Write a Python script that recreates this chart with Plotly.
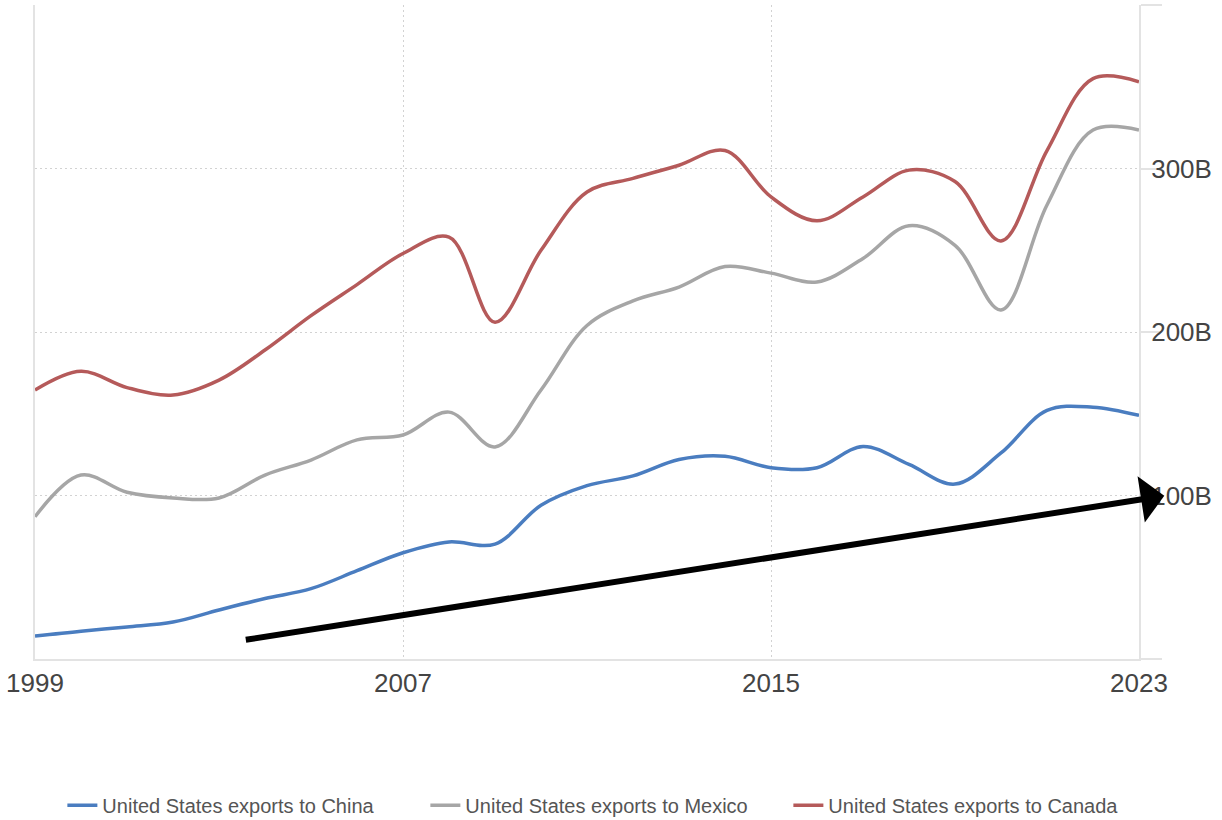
import plotly.graph_objects as go

years = list(range(1999, 2024))
china = [14, 17, 19.6, 22.6, 30, 37, 43, 54, 65, 71.6, 70.3, 94, 106, 112, 122, 124, 117, 117, 130, 119, 107, 126, 152, 154, 149]
mexico = [87, 112.5, 102, 98.5, 98.5, 112.5, 121.7, 134, 137, 151, 129.7, 164.5, 204, 219, 227.5, 240, 236, 230.6, 245, 265, 253, 213.5, 277.7, 323.5, 323.5]
canada = [164.5, 176, 166, 161.5, 170.6, 189, 210, 229, 248, 258, 206, 250, 285.6, 294, 302, 311, 282.6, 268, 282.6, 299, 292, 255.7, 311, 355, 353]

series_names = ["United States exports to China", "United States exports to Mexico", "United States exports to Canada"]
series_colors = ["#4a7dc0", "#a6a6a6", "#b55a5a"]

y_tickvals = [0, 100, 200, 300, 400]
y_ticktext = ["", "100B", "200B", "300B", ""]
x_tickvals = [1999, 2007, 2015, 2023]

arrow_start = (2003.55, 11.6)
arrow_end = (2023.55, 99.8)

fig = go.Figure()
for name, vals, col in zip(series_names, [china, mexico, canada], series_colors):
    fig.add_trace(go.Scatter(x=years, y=vals, mode="lines", name=name,
                             line=dict(color=col, width=3.5, shape="spline", smoothing=1)))

fig.add_annotation(x=arrow_end[0], y=arrow_end[1], ax=arrow_start[0], ay=arrow_start[1],
                   xref="x", yref="y", axref="x", ayref="y", text="",
                   showarrow=True, arrowhead=1, arrowsize=1.3, arrowwidth=6, arrowcolor="black")

grid = "#d2d2d2"
axis_line = "#e3e3e3"
fig.update_layout(
    width=1222, height=820,
    margin=dict(l=35, r=83, t=5, b=161, autoexpand=False),
    paper_bgcolor="white", plot_bgcolor="white",
    font=dict(family="Liberation Sans, Arial", color="#444"),
    showlegend=True,
    legend=dict(orientation="h", x=0.518, xanchor="center", xref="paper",
                y=0.018, yanchor="middle", yref="container",
                font=dict(size=20, color="#555"), entrywidth=318, entrywidthmode="pixels",
                traceorder="normal"),
    xaxis=dict(range=[1999, 2023], tickvals=x_tickvals, showgrid=True, gridcolor=grid,
               griddash="2px,3px", gridwidth=1, showline=True, linecolor=axis_line, linewidth=2,
               zeroline=False, ticks="", tickfont=dict(size=26, color="#444"), ticklabelstandoff=0,
               automargin=False),
    yaxis=dict(range=[0, 400], side="right", tickvals=y_tickvals, ticktext=y_ticktext,
               showgrid=True, gridcolor=grid, griddash="2px,3px", gridwidth=1,
               showline=True, mirror=True, linecolor=axis_line, linewidth=2,
               zeroline=False, ticks="outside", ticklen=21, tickcolor=axis_line, tickwidth=2,
               tickfont=dict(size=26, color="#444"), ticklabelstandoff=-16, automargin=False),
)

fig.write_html("out.html")
